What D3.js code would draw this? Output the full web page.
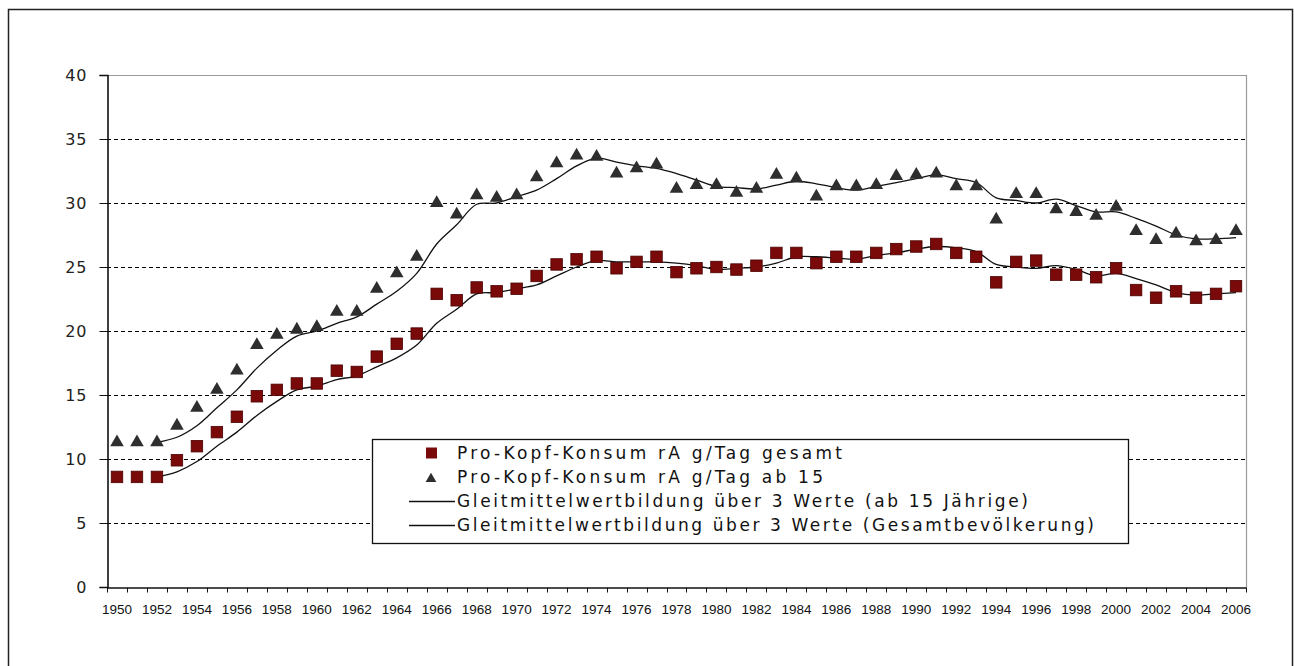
<!DOCTYPE html>
<head>
  <meta charset="utf-8">
  <style>
    body { margin: 0; background: #fff; }
    svg { background-color: #fff; }
    .grid line { stroke: #000; stroke-width: 1px; stroke-dasharray: 4,3; }
    .yaxis text { font-family: "DejaVu Sans", Verdana, sans-serif; font-size: 16px; letter-spacing: 1px; fill: #222; }
    .xaxis text { font-family: "Liberation Sans", Arial, sans-serif; font-size: 13.5px; fill: #111; }
    .legend text { font-family: "DejaVu Sans", Verdana, sans-serif; font-size: 17px; fill: #111; }
  </style>
</head>

<body>
  <svg></svg>
  <script src="https://d3js.org/d3.v7.min.js"></script>
  <script type="text/javascript">
  // years 1950..2006
  let years = d3.range(1950, 2007);

  // Pro-Kopf-Konsum rA g/Tag gesamt
  let gesamt = [8.6, 8.6, 8.6, 9.9, 11.0, 12.1, 13.3, 14.9, 15.4, 15.9,
                15.9, 16.9, 16.8, 18.0, 19.0, 19.8, 22.9, 22.4, 23.4, 23.1,
                23.3, 24.3, 25.2, 25.6, 25.8, 24.9, 25.4, 25.8, 24.6, 24.9,
                25.0, 24.8, 25.1, 26.1, 26.1, 25.3, 25.8, 25.8, 26.1, 26.4,
                26.6, 26.8, 26.1, 25.8, 23.8, 25.4, 25.5, 24.4, 24.4, 24.2,
                24.9, 23.2, 22.6, 23.1, 22.6, 22.9, 23.5];

  // Pro-Kopf-Konsum rA g/Tag ab 15
  let ab15 = [11.3, 11.3, 11.3, 12.6, 14.0, 15.4, 16.9, 18.9, 19.7, 20.1,
              20.3, 21.5, 21.5, 23.3, 24.5, 25.8, 30.0, 29.1, 30.6, 30.4,
              30.6, 32.0, 33.1, 33.7, 33.6, 32.3, 32.7, 33.0, 31.1, 31.4,
              31.4, 30.8, 31.1, 32.2, 31.9, 30.5, 31.3, 31.3, 31.4, 32.1,
              32.2, 32.3, 31.3, 31.3, 28.7, 30.7, 30.7, 29.5, 29.3, 29.0,
              29.7, 27.8, 27.1, 27.6, 27.0, 27.1, 27.8];

  // Gleitmittelwert lines, 1952..2006
  let lineYears = d3.range(1952, 2007);
  let gleitAb15 = [11.3, 11.7, 12.6, 14.0, 15.4, 17.1, 18.5, 19.6, 20.0, 20.6,
                   21.1, 22.1, 23.1, 24.5, 26.8, 28.3, 29.9, 30.0, 30.5, 31.0,
                   31.9, 32.9, 33.5, 33.2, 32.9, 32.7, 32.3, 31.8, 31.3, 31.2,
                   31.1, 31.4, 31.7, 31.5, 31.2, 31.0, 31.3, 31.6, 31.9, 32.2,
                   31.9, 31.6, 30.4, 30.2, 30.0, 30.3, 29.8, 29.3, 29.3, 28.8,
                   28.2, 27.5, 27.2, 27.2, 27.3];
  let gleitGesamt = [8.6, 9.0, 9.8, 11.0, 12.1, 13.4, 14.5, 15.4, 15.7, 16.2,
                     16.5, 17.2, 17.9, 18.9, 20.6, 21.7, 22.9, 23.0, 23.3, 23.6,
                     24.3, 25.0, 25.5, 25.4, 25.4, 25.4, 25.3, 25.1, 24.8, 24.9,
                     25.0, 25.3, 25.8, 25.8, 25.7, 25.6, 25.9, 26.1, 26.4, 26.6,
                     26.5, 26.2, 25.2, 25.0, 24.9, 25.1, 24.8, 24.3, 24.5, 24.1,
                     23.6, 23.0, 22.8, 22.9, 23.0];

  let yTicks = [0, 5, 10, 15, 20, 25, 30, 35, 40];
  let legendLabels = [
    "Pro-Kopf-Konsum rA g/Tag gesamt",
    "Pro-Kopf-Konsum rA g/Tag ab 15",
    "Gleitmittelwertbildung über 3 Werte (ab 15 Jährige)",
    "Gleitmittelwertbildung über 3 Werte (Gesamtbevölkerung)"
  ];

  let width = 1294, height = 666;
  let svg = d3.select('svg').attr('width', width).attr('height', height);

  // outer frame
  svg.append('rect')
      .attr('x', 8.5).attr('y', 9.5)
      .attr('width', 1284).attr('height', 680)
      .attr('fill', 'none').attr('stroke', '#222').attr('stroke-width', 1.5);

  let pLeft = 107, pRight = 1246, pTop = 75, pBottom = 587;

  let x = d3.scaleBand().domain(years).range([pLeft, pRight]).padding(0);
  let y = d3.scaleLinear().domain([0, 40]).range([pBottom, pTop]);
  let cx = function(yr) { return x(yr) + x.bandwidth() / 2 };

  // gridlines
  svg.append('g').classed('grid', true)
    .selectAll('line')
    .data(yTicks.filter(function(d){ return d > 0 && d < 40 }))
    .enter().append('line')
      .attr('x1', pLeft).attr('x2', pRight)
      .attr('y1', function(d){ return Math.round(y(d)) + 0.5 })
      .attr('y2', function(d){ return Math.round(y(d)) + 0.5 });

  // plot border top + right
  svg.append('path')
      .attr('d', 'M' + pLeft + ',' + (pTop + 0.5) + 'H' + (pRight + 0.5) + 'V' + pBottom)
      .attr('fill', 'none').attr('stroke', '#999').attr('stroke-width', 1.2);

  // y axis
  let yAxis = svg.append('g').classed('yaxis', true)
      .attr('transform', 'translate(' + (pLeft + 0.5) + ',0)')
      .call(d3.axisLeft(y).tickValues(yTicks).tickSize(8).tickPadding(12));
  yAxis.select('.domain').attr('stroke', '#111').attr('stroke-width', 1.6);
  yAxis.selectAll('.tick line').attr('stroke', '#111');

  // x axis: labels every other year, ticks at category boundaries
  let xAxis = svg.append('g').classed('xaxis', true)
      .attr('transform', 'translate(0,' + (pBottom + 0.5) + ')')
      .call(d3.axisBottom(x).tickValues(years.filter(function(d){ return d % 2 == 0 }))
            .tickSize(0).tickPadding(17));
  xAxis.select('.domain').attr('stroke', '#111').attr('stroke-width', 1.6);
  xAxis.selectAll('text').attr('dy', '0.32em').attr('y', 22);

  let bounds = years.map(function(d){ return x(d) }).concat([pRight]);
  xAxis.selectAll('.btick').data(bounds).enter().append('line')
      .classed('btick', true)
      .attr('x1', function(d){ return Math.round(d) + 0.5 })
      .attr('x2', function(d){ return Math.round(d) + 0.5 })
      .attr('y1', 0).attr('y2', 5)
      .attr('stroke', '#111');

  // moving average lines
  let line = d3.line()
      .x(function(d){ return cx(d[0]) })
      .y(function(d){ return y(d[1]) })
      .curve(d3.curveCatmullRom.alpha(0.5));

  [gleitAb15, gleitGesamt].forEach(function(vals){
    svg.append('path')
        .datum(lineYears.map(function(yr, i){ return [yr, vals[i]] }))
        .attr('d', line)
        .attr('fill', 'none')
        .attr('stroke', '#111')
        .attr('stroke-width', 1.3);
  });

  // markers
  let sq = 11.5;
  svg.append('g').selectAll('rect')
    .data(years.map(function(yr, i){ return [yr, gesamt[i]] }))
    .enter().append('rect')
      .attr('x', function(d){ return cx(d[0]) - sq / 2 })
      .attr('y', function(d){ return y(d[1]) - sq / 2 })
      .attr('width', sq).attr('height', sq)
      .attr('fill', '#7a0a0a')
      .attr('stroke', '#4a0000').attr('stroke-width', 0.8);

  let tri = d3.symbol().type(d3.symbolTriangle).size(80);
  svg.append('g').selectAll('path')
    .data(years.map(function(yr, i){ return [yr, ab15[i]] }))
    .enter().append('path')
      .attr('d', tri)
      .attr('transform', function(d){ return 'translate(' + cx(d[0]) + ',' + y(d[1]) + ')' })
      .attr('fill', '#2e2e2e');

  // legend
  let legend = svg.append('g').classed('legend', true);
  legend.append('rect')
      .attr('x', 372.5).attr('y', 439.5)
      .attr('width', 756).attr('height', 104)
      .attr('fill', '#fff').attr('stroke', '#111').attr('stroke-width', 1.3);

  let rowY = [453, 477, 501, 525];
  let rowW = [385, 366, 571, 637];
  legend.selectAll('text').data(legendLabels).enter().append('text')
      .attr('x', 457)
      .attr('y', function(d, i){ return rowY[i] })
      .attr('dy', '0.36em')
      .attr('textLength', function(d, i){ return rowW[i] })
      .attr('lengthAdjust', 'spacing')
      .text(function(d){ return d });

  legend.append('rect')
      .attr('x', 426).attr('y', rowY[0] - 5.5)
      .attr('width', 11).attr('height', 11)
      .attr('fill', '#7a0a0a');
  legend.append('path')
      .attr('d', d3.symbol().type(d3.symbolTriangle).size(50))
      .attr('transform', 'translate(431,' + (rowY[1] + 2) + ')')
      .attr('fill', '#2e2e2e');
  [rowY[2], rowY[3]].forEach(function(ry){
    legend.append('line')
        .attr('x1', 409).attr('x2', 455)
        .attr('y1', ry + 0.5).attr('y2', ry + 0.5)
        .attr('stroke', '#111').attr('stroke-width', 1.3);
  });
  </script>
</body>
